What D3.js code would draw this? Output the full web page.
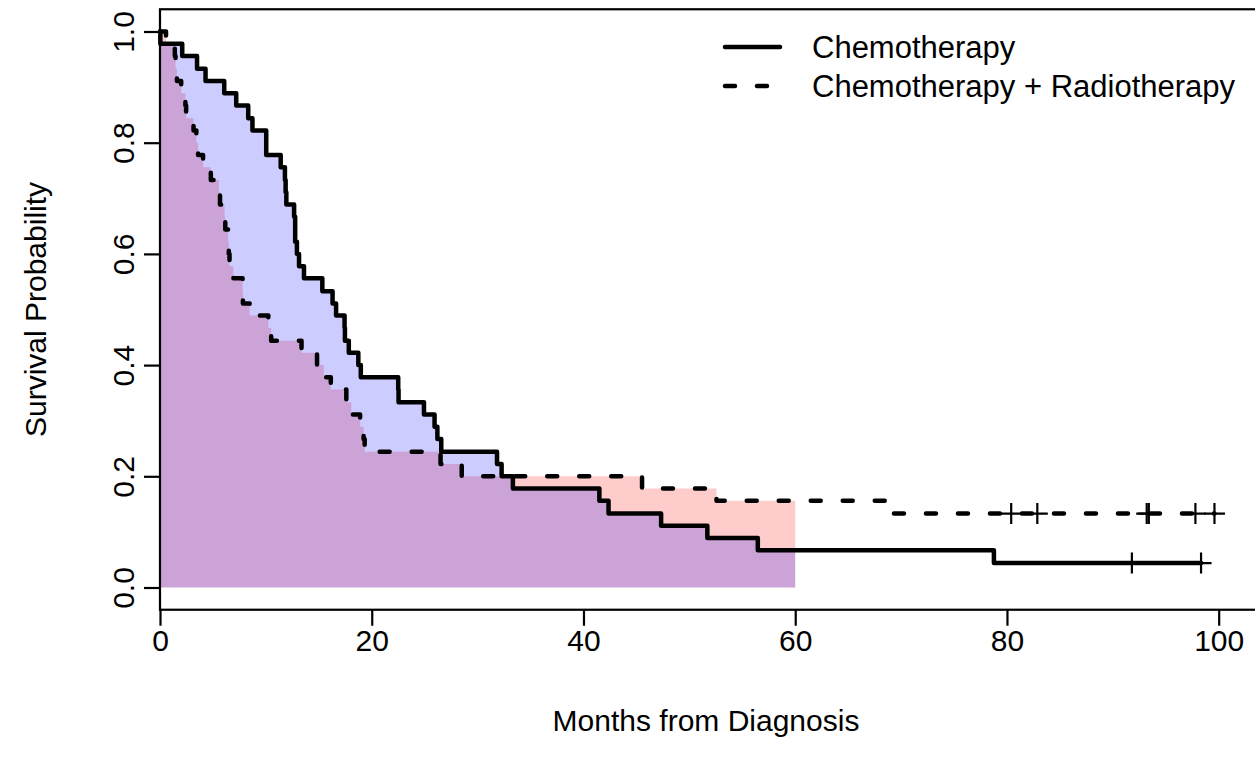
<!DOCTYPE html>
<html>
<head>
<meta charset="utf-8">
<script src="https://cdn.jsdelivr.net/npm/d3@7"></script>
<style>
  body { margin: 0; background: #fff; }
  svg text { font-family: "Liberation Sans", Arial, Helvetica, sans-serif; }
</style>
</head>
<body>
<div id="chart"></div>
<script>
// Kaplan-Meier steps, months from diagnosis
const chemoTimes = [0.033, 2.1, 3.5, 4.3, 6.067, 7.2, 8.333, 8.733, 10.033, 11.4, 11.8, 11.867, 11.933,
  12.667, 12.767, 12.933, 13.133, 13.6, 15.333, 16.3, 16.633, 17.433, 17.467, 17.833, 18.733, 18.967,
  22.5, 22.533, 24.933, 25.933, 26.2, 26.567, 31.833, 32.267, 33.333, 41.5, 42.367, 47.333, 51.7,
  56.467, 78.767];
const chemoSurv = [0.978, 0.956, 0.933, 0.911, 0.889, 0.867, 0.844, 0.822, 0.778, 0.756, 0.733, 0.711, 0.689,
  0.667, 0.622, 0.6, 0.578, 0.556, 0.533, 0.511, 0.489, 0.467, 0.444, 0.422, 0.4, 0.378,
  0.356, 0.333, 0.311, 0.289, 0.267, 0.244, 0.222, 0.2, 0.178, 0.156, 0.133, 0.111, 0.089,
  0.067, 0.044];
const chemoCensor = [91.8, 98.333];

const radioTimes = [0.567, 1.4, 1.467, 1.6, 2.0, 2.4, 2.467, 3.167, 3.433, 3.6, 4.067, 4.8, 5.567,
  5.667, 6.1, 6.167, 6.433, 6.5, 6.567, 6.933, 7.8, 7.833, 8.467, 10.233, 10.5, 13.367, 14.833,
  15.467, 16.133, 17.6, 18.067, 18.9, 19.233, 19.333, 26.5, 28.5, 45.533, 52.567, 68.667];
const radioSurv = [0.978, 0.956, 0.933, 0.911, 0.889, 0.867, 0.844, 0.822, 0.8, 0.778, 0.756, 0.733, 0.711,
  0.689, 0.667, 0.644, 0.622, 0.6, 0.578, 0.556, 0.533, 0.511, 0.489, 0.467, 0.444, 0.422, 0.4,
  0.378, 0.356, 0.333, 0.311, 0.289, 0.267, 0.244, 0.222, 0.2, 0.178, 0.156, 0.133];
const radioCensor = [80.4, 82.867, 93.2, 93.4, 97.8, 99.6];

const tau = 60;  // restricted mean horizon (shaded)
const xTicks = [0, 20, 40, 60, 80, 100];
const yTicks = [0, 0.2, 0.4, 0.6, 0.8, 1.0];
const seriesNames = ["Chemotherapy", "Chemotherapy + Radiotherapy"];

const width = 1255, height = 764;
const fontSize = 30;
const tickLen = 16;

const x = d3.scaleLinear().domain([0, 100]).range([160, 1218.7]);
const y = d3.scaleLinear().domain([0, 1]).range([587.5, 31.5]);

const svg = d3.select("#chart").append("svg")
    .attr("width", width)
    .attr("height", height);

// step points from (0,1), optionally cut at tEnd
function stepPoints(times, surv, tEnd) {
    const pts = [[0, 1]];
    let s = 1;
    for (let i = 0; i < times.length; i++) {
        if (tEnd !== undefined && times[i] > tEnd) break;
        pts.push([times[i], s]);
        s = surv[i];
        pts.push([times[i], s]);
    }
    return { pts, last: s };
}

function fillPath(times, surv) {
    const r = stepPoints(times, surv, tau);
    const pts = [[0, 0]].concat(r.pts, [[tau, r.last], [tau, 0]]);
    return "M" + pts.map(p => `${x(p[0])},${y(p[1])}`).join("L") + "Z";
}

function curvePath(times, surv, tLast) {
    const r = stepPoints(times, surv);
    r.pts.push([tLast, r.last]);
    return "M" + r.pts.map(p => `${x(p[0])},${y(p[1])}`).join("L");
}

// shaded areas (red first, blue over it gives the purple)
svg.append("path")
    .attr("d", fillPath(radioTimes, radioSurv))
    .attr("fill", "rgba(255,0,0,0.2)");
svg.append("path")
    .attr("d", fillPath(chemoTimes, chemoSurv))
    .attr("fill", "rgba(0,0,255,0.2)");

// curves
const curveW = 4.5;
svg.append("path")
    .attr("d", curvePath(chemoTimes, chemoSurv, d3.max(chemoCensor)))
    .attr("fill", "none")
    .attr("stroke", "#000")
    .attr("stroke-width", curveW)
    .attr("stroke-linejoin", "round")
    .attr("stroke-linecap", "round");
svg.append("path")
    .attr("d", curvePath(radioTimes, radioSurv, d3.max(radioCensor)))
    .attr("fill", "none")
    .attr("stroke", "#000")
    .attr("stroke-width", curveW)
    .attr("stroke-dasharray", "10,22")
    .attr("stroke-linejoin", "round")
    .attr("stroke-linecap", "round");

// censor marks
function censorMarks(times, level) {
    const h = 10.5;
    svg.append("g").selectAll("path")
        .data(times)
        .join("path")
        .attr("d", t => `M${x(t) - h},${y(level)}H${x(t) + h}M${x(t)},${y(level) - h}V${y(level) + h}`)
        .attr("stroke", "#000")
        .attr("stroke-width", 2.2)
        .attr("fill", "none");
}
censorMarks(chemoCensor, chemoSurv[chemoSurv.length - 1]);
censorMarks(radioCensor, radioSurv[radioSurv.length - 1]);

// box (right side falls outside the picture)
svg.append("rect")
    .attr("x", x(0))
    .attr("y", y(1.04))
    .attr("width", x(104) - x(0))
    .attr("height", y(-0.04) - y(1.04))
    .attr("fill", "none")
    .attr("stroke", "#000")
    .attr("stroke-width", 2.2);

// x axis
const xAxis = svg.append("g")
    .attr("transform", `translate(0,${y(-0.04)})`)
    .call(d3.axisBottom(x).tickValues(xTicks).tickFormat(d3.format("d"))
        .tickSize(tickLen).tickPadding(4));
xAxis.select(".domain").remove();
xAxis.selectAll("line").attr("stroke-width", 2.2);
xAxis.selectAll("text").attr("font-size", fontSize).attr("fill", "#000")
    .style("font-family", "'Liberation Sans', Arial, sans-serif");

// y axis, rotated labels
const yAxis = svg.append("g")
    .attr("transform", `translate(${x(0)},0)`)
    .call(d3.axisLeft(y).tickValues(yTicks).tickFormat(d3.format(".1f")).tickSize(tickLen));
yAxis.select(".domain").remove();
yAxis.selectAll("line").attr("stroke-width", 2.2);
yAxis.selectAll("text")
    .attr("x", null).attr("dy", null)
    .attr("transform", "translate(-26,0) rotate(-90)")
    .attr("text-anchor", "middle")
    .attr("font-size", fontSize).attr("fill", "#000")
    .style("font-family", "'Liberation Sans', Arial, sans-serif");

// axis titles
svg.append("text")
    .attr("x", 706)
    .attr("y", 731)
    .attr("text-anchor", "middle")
    .attr("font-size", fontSize)
    .text("Months from Diagnosis");
svg.append("text")
    .attr("transform", `translate(46,${(y(1.04) + y(-0.04)) / 2}) rotate(-90)`)
    .attr("text-anchor", "middle")
    .attr("font-size", fontSize)
    .text("Survival Probability");

// legend
const legend = svg.append("g");
const legendRows = [47, 86];
seriesNames.forEach((name, i) => {
    legend.append("line")
        .attr("x1", 725).attr("x2", 780)
        .attr("y1", legendRows[i]).attr("y2", legendRows[i])
        .attr("stroke", "#000")
        .attr("stroke-width", curveW)
        .attr("stroke-linecap", "round")
        .attr("stroke-dasharray", i === 1 ? "10,22" : null);
    legend.append("text")
        .attr("x", 812)
        .attr("y", legendRows[i])
        .attr("dy", "0.36em")
        .attr("font-size", 31)
        .text(name);
});
</script>
</body>
</html>
